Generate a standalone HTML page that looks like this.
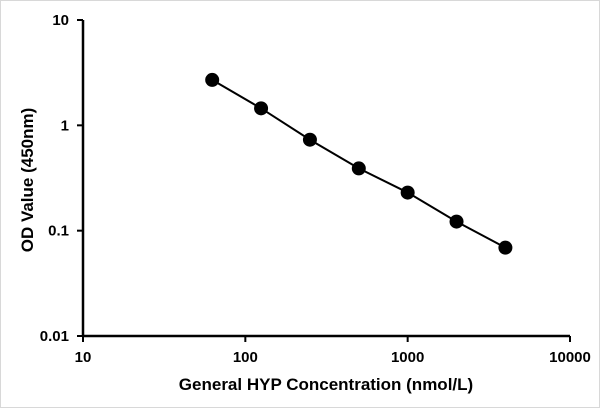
<!DOCTYPE html>
<html><head><meta charset="utf-8"><style>
body{margin:0;background:#fff}
svg{display:block;font-family:"Liberation Sans",sans-serif;font-weight:bold}
</style></head><body>
<svg width="600" height="408">
<rect x="0.5" y="0.5" width="599" height="407" fill="#fff" stroke="#d8d8d8"/>
<g id="axes"></g><g id="series"></g>
<text x="0" y="0" transform="translate(33,180) rotate(-90)" text-anchor="middle" font-size="17">OD Value (450nm)</text>
<text x="326" y="390" text-anchor="middle" font-size="17">General HYP Concentration (nmol/L)</text>
</svg>
<script>
const concentrations=[62.5,125,250,500,1000,2000,4000];
const odValues=[2.7,1.45,0.73,0.39,0.23,0.122,0.069];
const xTicks=[10,100,1000,10000];
const xTickLabels=["10","100","1000","10000"];
const yTicks=[0.01,0.1,1,10];
const yTickLabels=["0.01","0.1","1","10"];
const NS="http://www.w3.org/2000/svg";
const X0=83,X1=570,Y0=336,Y1=20;
const x=v=>X0+(Math.log10(v)-1)/3*(X1-X0);
const y=v=>Y0-(Math.log10(v)+2)/3*(Y0-Y1);
function mk(t,a,p){const e=document.createElementNS(NS,t);for(const k in a)e.setAttribute(k,a[k]);p.appendChild(e);return e;}
const ax=document.getElementById('axes'),se=document.getElementById('series');
let l=mk('line',{x1:X0,y1:Y0,x2:X1,y2:Y0,stroke:'#000','stroke-width':2.5},ax);


l=mk('line',{x1:X0,y1:Y0,x2:X0,y2:Y1,stroke:'#000','stroke-width':2.5},ax);


xTicks.forEach((v,i)=>{
 const t=mk('line',{x1:x(v),y1:Y0,x2:x(v),y2:Y0+6,stroke:'#000','stroke-width':2},ax);
 
 
 const s=mk('text',{x:x(v),y:Y0+26,'text-anchor':'middle','font-size':15},ax);s.textContent=xTickLabels[i];
 
 
});
yTicks.forEach((v,i)=>{
 const t=mk('line',{x1:X0-6,y1:y(v),x2:X0,y2:y(v),stroke:'#000','stroke-width':2},ax);
 
 
 const s=mk('text',{x:X0-14,y:y(v)+5,'text-anchor':'end','font-size':15},ax);s.textContent=yTickLabels[i];
 
 
});
const p=mk('polyline',{points:concentrations.map((c,i)=>x(c)+','+y(odValues[i])).join(' '),fill:'none',stroke:'#000','stroke-width':2},se);


concentrations.forEach((c,i)=>{
 const d=mk('circle',{cx:x(c),cy:y(odValues[i]),r:7,fill:'#000'},se);
 
 
});
</script>
</body></html>
